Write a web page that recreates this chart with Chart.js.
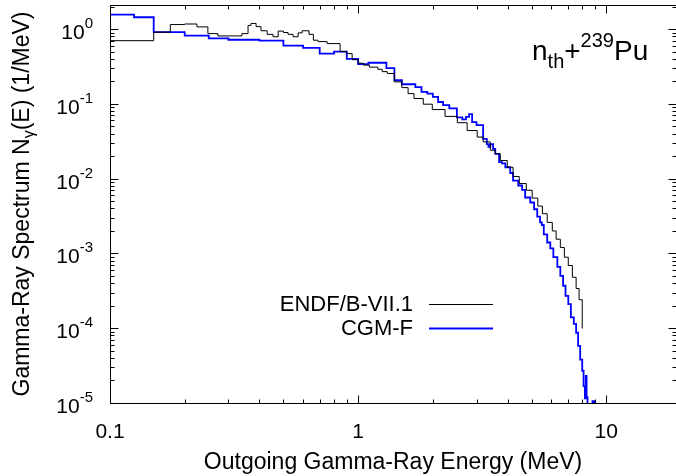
<!DOCTYPE html>
<html>
<head>
<meta charset="utf-8">
<script src="https://cdn.jsdelivr.net/npm/chart.js@4.4.0/dist/chart.umd.min.js"></script>
<style>
    html, body { margin: 0; padding: 0; overflow: hidden; background: #fff; }
    #wrap { width: 676px; height: 476px; }
</style>
</head>
<body>
<div id="wrap"><canvas id="gammaChart" width="676" height="476"></canvas></div>
<script>
// ENDF/B-VII.1 histogram: bin start energy (MeV) and value (1/MeV)
const endfE = [0.1, 0.15, 0.175, 0.2, 0.224, 0.248, 0.272, 0.34, 0.36, 0.37, 0.388, 0.406, 0.43, 0.454,
    0.476, 0.5, 0.522, 0.547, 0.573, 0.595, 0.634, 0.66, 0.69, 0.75, 0.846, 0.9, 0.946, 1.0, 1.05, 1.11,
    1.2, 1.25, 1.31, 1.4, 1.5, 1.59, 1.68, 1.83, 1.99, 2.24, 2.51, 2.75, 3.02, 3.19, 3.41, 3.57, 3.74,
    3.99, 4.21, 4.46, 4.76, 5.03, 5.3, 5.53, 5.78, 6.06, 6.28, 6.53, 6.78, 7.03, 7.3, 7.56, 7.77, 8.0, 8.03];
const endfN = [0.70, 0.91, 1.15, 1.17, 1.07, 0.87, 0.81, 0.87, 1.12, 1.19, 1.08, 0.95, 0.85, 0.79,
    0.94, 0.90, 0.85, 0.79, 0.89, 0.95, 0.85, 0.71, 0.68, 0.64, 0.50, 0.47, 0.39, 0.35, 0.33, 0.31,
    0.29, 0.27, 0.255, 0.197, 0.165, 0.137, 0.118, 0.099, 0.084, 0.068, 0.056, 0.044, 0.036, 0.031, 0.024, 0.0215, 0.0175,
    0.0142, 0.0107, 0.0086, 0.0070, 0.0055, 0.0043, 0.0034, 0.0026, 0.0020, 0.00155, 0.0012, 0.00089, 0.00069, 0.00048, 0.00034, 0.00024, 0.0001, 0.0001];

// CGM-F histogram
const cgmfE = [0.1, 0.125, 0.15, 0.2, 0.25, 0.3, 0.4, 0.5, 0.6, 0.7, 0.8, 0.9, 1.0, 1.1, 1.3, 1.4, 1.5,
    1.7, 1.8, 1.9, 2.0, 2.1, 2.2, 2.33, 2.5, 2.63, 2.72, 2.8, 2.88, 3.0, 3.19, 3.3, 3.35, 3.41, 3.5, 3.57,
    3.7, 3.8, 3.92, 4.1, 4.21, 4.42, 4.58, 4.71, 4.94, 5.12, 5.27, 5.41, 5.5, 5.6, 5.78, 5.95, 6.12, 6.35,
    6.53, 6.7, 6.85, 7.03, 7.2, 7.4, 7.56, 7.7, 7.85, 8.0, 8.1, 8.2, 8.27, 8.33, 8.4, 8.8, 8.95, 9.0];
const cgmfN = [1.56, 1.44, 0.91, 0.82, 0.75, 0.72, 0.70, 0.60, 0.56, 0.47, 0.50, 0.40, 0.34, 0.355, 0.30, 0.207, 0.183,
    0.168, 0.145, 0.137, 0.124, 0.106, 0.096, 0.087, 0.066, 0.062, 0.067, 0.073, 0.057, 0.052, 0.034, 0.029, 0.0266, 0.029, 0.025, 0.0215,
    0.0166, 0.016, 0.0142, 0.0119, 0.0094, 0.0081, 0.0071, 0.0056, 0.0048, 0.0039, 0.0031, 0.0026, 0.0024, 0.0018, 0.0014, 0.00117, 0.00089, 0.00066,
    0.0005, 0.00037, 0.00027, 0.00021, 0.00014, 0.000114, 0.000087, 0.000058, 0.000038, 0.000027, 0.0000168, 0.0000115, 0.000023, 0.000012, 0.0000022, 0.0000106, 0.0000022, 0.0000022];

const xTickValues = [0.1, 1, 10];
const xTickLabels = ['0.1', '1', '10'];
const yTickExps = [0, -1, -2, -3, -4, -5];

const FONT = "'Liberation Sans', Arial, sans-serif";

const toPoints = (es, ns) => es.map((e, i) => ({ x: e, y: ns[i] }));

// frame, inward ticks on all sides, y labels, y title, legend and label
const decorations = {
    id: 'decorations',
    afterDraw(chart) {
        const { ctx, chartArea: a, scales: { x, y } } = chart;
        ctx.save();
        ctx.strokeStyle = '#000';
        ctx.lineWidth = 1;
        const L = Math.round(a.left) + 0.5, R = Math.round(a.right) + 0.5;
        const T = Math.round(a.top) + 0.5, B = Math.round(a.bottom) + 0.5;
        ctx.strokeRect(L, T, R - L, B - T);

        ctx.beginPath();
        for (let e = -1; e <= 1; e++) {
            for (let m = 1; m <= 9; m++) {
                const v = m * Math.pow(10, e);
                if (v < 0.1 || v > x.max) continue;
                const px = Math.round(x.getPixelForValue(v)) + 0.5;
                const len = m === 1 ? 8 : 4;
                ctx.moveTo(px, B); ctx.lineTo(px, B - len);
                ctx.moveTo(px, T); ctx.lineTo(px, T + len);
            }
        }
        for (let e = -5; e <= 0; e++) {
            for (let m = 1; m <= 9; m++) {
                const v = m * Math.pow(10, e);
                if (v > y.max) continue;
                const py = Math.round(y.getPixelForValue(v)) + 0.5;
                const len = m === 1 ? 8 : 4;
                ctx.moveTo(L, py); ctx.lineTo(L + len, py);
                ctx.moveTo(R, py); ctx.lineTo(R - len, py);
            }
        }
        ctx.stroke();

        // y tick labels 10^n
        ctx.fillStyle = '#000';
        ctx.textBaseline = 'alphabetic';
        ctx.textAlign = 'right';
        yTickExps.forEach(n => {
            const py = y.getPixelForValue(Math.pow(10, n));
            ctx.font = '15px ' + FONT;
            const sup = String(n);
            const sw = ctx.measureText(sup).width;
            ctx.fillText(sup, 93, py - 1);
            ctx.font = '21px ' + FONT;
            ctx.fillText('10', 93 - sw, py + 10);
        });

        // y axis title with subscript gamma
        ctx.save();
        ctx.translate(29, (a.top + a.bottom) / 2);
        ctx.rotate(-Math.PI / 2);
        ctx.textAlign = 'left';
        const parts = [
            { t: 'Gamma-Ray Spectrum N', size: 23, dy: 0 },
            { t: '\u03b3', size: 16, dy: 5 },
            { t: '(E) (1/MeV)', size: 23, dy: 0 }
        ];
        let total = 0;
        parts.forEach(p => { ctx.font = p.size + 'px ' + FONT; p.w = ctx.measureText(p.t).width; total += p.w; });
        let cx = -total / 2;
        parts.forEach(p => { ctx.font = p.size + 'px ' + FONT; ctx.fillText(p.t, cx, p.dy); cx += p.w; });
        ctx.restore();

        // legend
        ctx.font = '22px ' + FONT;
        ctx.textAlign = 'right';
        ctx.textBaseline = 'middle';
        chart.data.datasets.forEach((ds, i) => {
            const ly = 305 + i * 23.5;
            ctx.fillStyle = '#000';
            ctx.fillText(ds.label, 413, ly);
            ctx.strokeStyle = ds.borderColor;
            ctx.lineWidth = ds.borderWidth;
            ctx.beginPath();
            ctx.moveTo(429, Math.round(ly) - 0.5);
            ctx.lineTo(493, Math.round(ly) - 0.5);
            ctx.stroke();
        });

        // reaction label n_th + 239Pu
        ctx.fillStyle = '#000';
        ctx.textAlign = 'left';
        ctx.textBaseline = 'alphabetic';
        const lab = [
            { t: 'n', size: 28, dy: 0 },
            { t: 'th', size: 20, dy: 8 },
            { t: '+', size: 28, dy: 0 },
            { t: '239', size: 20, dy: -13 },
            { t: 'Pu', size: 28, dy: 0 }
        ];
        let lx = 532;
        lab.forEach(p => {
            ctx.font = p.size + 'px ' + FONT;
            ctx.fillText(p.t, lx, 60 + p.dy);
            lx += ctx.measureText(p.t).width;
        });
        ctx.restore();
    }
};

const ctx = document.getElementById('gammaChart').getContext('2d');

const chart = new Chart(ctx, {
    type: 'line',
    data: {
        datasets: [
            {
                label: 'ENDF/B-VII.1',
                data: toPoints(endfE, endfN),
                borderColor: '#000000',
                borderWidth: 1,
                stepped: 'before',
                pointRadius: 0,
                fill: false
            },
            {
                label: 'CGM-F',
                data: toPoints(cgmfE, cgmfN),
                borderColor: '#0000ff',
                borderWidth: 1.8,
                stepped: 'before',
                pointRadius: 0,
                fill: false
            }
        ]
    },
    options: {
        responsive: false,
        animation: false,
        layout: { padding: { top: 5, right: 0, bottom: 0, left: 0 } },
        plugins: {
            legend: { display: false },
            tooltip: { enabled: false }
        },
        scales: {
            x: {
                type: 'logarithmic',
                min: 0.1,
                max: 19.1,
                border: { display: false },
                grid: { display: false, drawTicks: false },
                ticks: {
                    autoSkip: false,
                    maxRotation: 0,
                    padding: 17,
                    color: '#000',
                    font: { size: 21, family: FONT },
                    callback: (value) => {
                        const i = xTickValues.findIndex(tv => Math.abs(Math.log10(value) - Math.log10(tv)) < 1e-6);
                        return i >= 0 ? xTickLabels[i] : '';
                    }
                },
                title: {
                    display: true,
                    text: 'Outgoing Gamma-Ray Energy (MeV)',
                    color: '#000',
                    font: { size: 23, family: FONT },
                    padding: { top: 0, bottom: 0 }
                },
                // frame's right side falls on the page edge, as in the original
                afterFit: (scale) => { scale.height = 73; scale.paddingLeft = 0; scale.paddingRight = 0; }
            },
            y: {
                type: 'logarithmic',
                min: 1e-5,
                max: 2.1,
                border: { display: false },
                grid: { display: false, drawTicks: false },
                ticks: { display: false },
                afterFit: (scale) => { scale.width = 110; }
            }
        }
    },
    plugins: [decorations]
});
</script>
</body>
</html>
